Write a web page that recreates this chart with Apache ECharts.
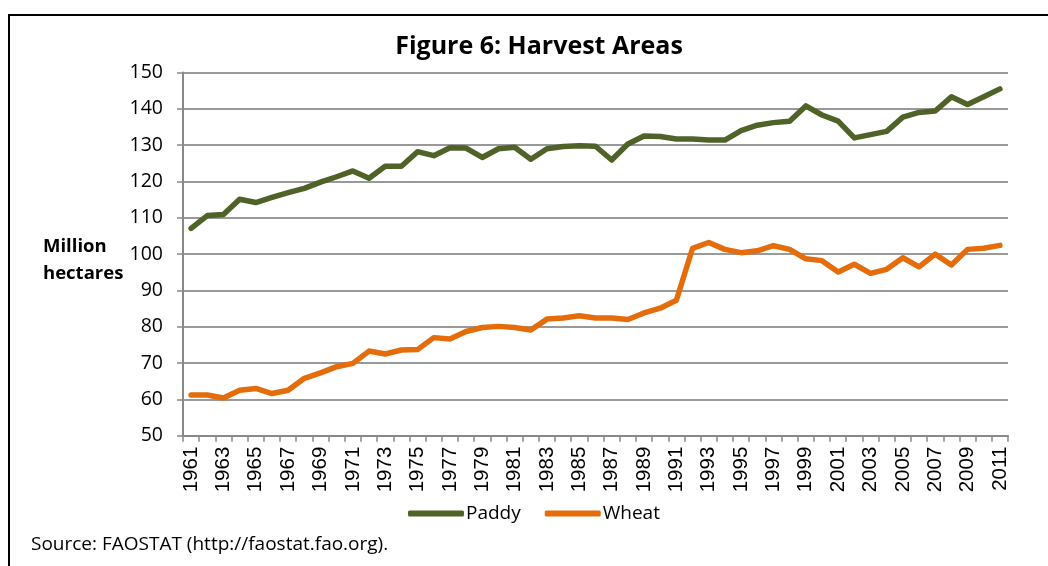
<!DOCTYPE html>
<html>
<head>
<meta charset="utf-8">
<script src="https://cdn.jsdelivr.net/npm/echarts@6/dist/echarts.min.js"></script>
<style>
  html, body { margin: 0; padding: 0; background: #fff; }
  #chart { width: 1048px; height: 566px; }
</style>
</head>
<body>
<div id="chart"></div>
<script>
var years = [];
for (var y = 1961; y <= 2011; y++) years.push(String(y));

// million hectares
var paddy = [107.1, 110.6, 110.9, 115.1, 114.2, 115.6, 116.9, 118.1, 119.8, 121.3,
             122.9, 120.9, 124.2, 124.2, 128.2, 127.1, 129.3, 129.2, 126.6, 129.0,
             129.4, 126.1, 129.0, 129.6, 129.8, 129.7, 125.9, 130.3, 132.5, 132.4,
             131.7, 131.7, 131.4, 131.4, 134.0, 135.5, 136.2, 136.6, 140.8, 138.3,
             136.6, 132.0, 132.9, 133.8, 137.7, 139.0, 139.4, 143.3, 141.2, 143.3,
             145.5];
var wheat = [61.2, 61.2, 60.4, 62.5, 63.0, 61.6, 62.5, 65.8, 67.3, 69.0,
             69.9, 73.3, 72.5, 73.6, 73.7, 77.0, 76.6, 78.7, 79.8, 80.1,
             79.8, 79.1, 82.1, 82.4, 83.0, 82.4, 82.4, 82.0, 83.8, 85.1,
             87.3, 101.6, 103.2, 101.3, 100.4, 100.9, 102.3, 101.3, 98.7, 98.2,
             95.1, 97.2, 94.7, 95.8, 99.0, 96.5, 100.0, 97.0, 101.3, 101.6,
             102.4];

var chart = echarts.init(document.getElementById('chart'));

var option = {
  backgroundColor: '#fff',
  animation: false,
  title: {
    text: 'Figure 6: Harvest Areas',
    left: 534,
    top: 29,
    textAlign: 'center',
    textStyle: { fontFamily: 'Open Sans', fontWeight: 'bold', fontSize: 25, color: '#000' }
  },
  legend: {
    data: ['Paddy', 'Wheat'],
    left: 403,
    top: 499,
    itemWidth: 56,
    itemHeight: 6,
    itemGap: 24,
    icon: 'roundRect',
    textStyle: { fontFamily: 'Open Sans', fontSize: 19, color: '#000', padding: [0, 0, 0, -3] }
  },
  graphic: [
    { type: 'rect', shape: { x: 9, y: 15, width: 1060, height: 580 },
      style: { fill: 'none', stroke: '#000', lineWidth: 2 } },
    { type: 'text', left: 43, top: 233,
      style: { text: 'Million\nhectares', fontFamily: 'Open Sans', fontWeight: 'bold',
               fontSize: 18.5, lineHeight: 27, fill: '#000', align: 'center' } },
    { type: 'text', left: 31, top: 535,
      style: { text: 'Source: FAOSTAT (http://faostat.fao.org).', fontFamily: 'Open Sans',
               fontSize: 19, fill: '#000' } }
  ],
  grid: { left: 183, right: 40, top: 72.5, bottom: 130.3 },
  xAxis: {
    type: 'category',
    data: years,
    boundaryGap: true,
    axisLine: { lineStyle: { color: '#888', width: 2 } },
    axisTick: { show: true, interval: 0, length: 6, lineStyle: { color: '#888', width: 1.5 } },
    axisLabel: {
      interval: 1,
      rotate: 90,
      margin: 11,
      fontFamily: 'Liberation Sans',
      fontSize: 20.5,
      color: '#000'
    },
    splitLine: { show: false }
  },
  yAxis: {
    type: 'value',
    min: 50,
    max: 150,
    interval: 10,
    axisLine: { show: true, lineStyle: { color: '#888', width: 2 } },
    axisTick: { show: true, length: 6, lineStyle: { color: '#888', width: 1.5 } },
    axisLabel: { margin: 20, fontFamily: 'Open Sans', fontSize: 19.5, color: '#000' },
    splitLine: { show: true, lineStyle: { color: '#999', width: 2 } }
  },
  series: [
    {
      name: 'Paddy',
      type: 'line',
      data: paddy,
      symbol: 'none',
      color: '#4F6228',
      lineStyle: { width: 5.5, color: '#4F6228', cap: 'round', join: 'round' }
    },
    {
      name: 'Wheat',
      type: 'line',
      data: wheat,
      symbol: 'none',
      color: '#E46C0A',
      lineStyle: { width: 5.5, color: '#E46C0A', cap: 'round', join: 'round' }
    }
  ]
};

chart.setOption(option);
</script>
</body>
</html>
